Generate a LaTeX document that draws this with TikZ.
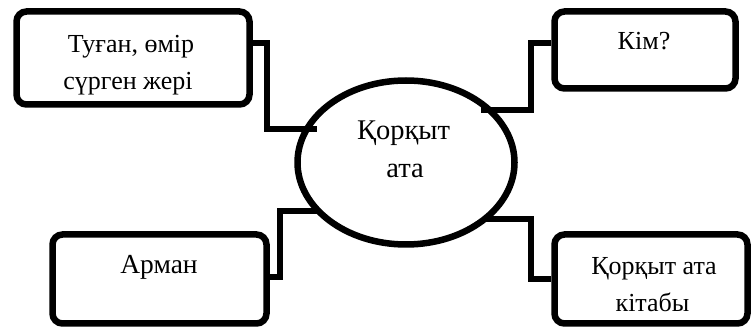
\documentclass[tikz,border=0pt]{standalone}
\usepackage{fontspec}
\setmainfont{Liberation Serif}
\usetikzlibrary{shapes.geometric}
\tikzset{
  box/.style={draw, line width=6.5pt, rounded corners=10pt, inner sep=0pt},
  oval/.style={draw, ellipse, line width=6.5pt, inner sep=0pt, minimum width=217pt, minimum height=164pt},
  conn/.style={draw, line width=6.5pt, line join=miter},
  txt/.style={anchor=base, inner sep=0pt, font=\fontsize{26}{37}\selectfont},
  bigtxt/.style={txt, font=\fontsize{28.5}{38}\selectfont}
}
\begin{document}
\begin{tikzpicture}[x=1pt,y=-1pt]
\useasboundingbox (0,0) rectangle (752,328);
% central ellipse
\node[oval] (e) at (406,162.5) {};
% boxes
\node[box, minimum width=233pt, minimum height=93pt] (b1) at (133,58) {};
\node[box, minimum width=181pt, minimum height=77pt] (b2) at (645,50) {};
\node[box, minimum width=214pt, minimum height=89pt] (b3) at (159.5,279) {};
\node[box, minimum width=193pt, minimum height=89pt] (b4) at (651,279) {};
% texts
\node[txt] (t1a) at (131,53) {Туған, өмір};
\node[txt] (t1b) at (128,90) {сүрген жері};
\node[txt] (t2) at (644,50) {Кім?};
\node[txt, font=\fontsize{27.5}{37}\selectfont] (t3) at (159,274) {Арман};
\node[txt] (t4a) at (654,275) {Қорқыт ата};
\node[txt] (t4b) at (652.5,312) {кітабы};
\node[bigtxt] (t0a) at (403.5,140) {Қорқыт};
\node[bigtxt] (t0b) at (405,178) {ата};
% connector free ends inside the ellipse
\coordinate (c1) at (317,129);
\coordinate (c2) at (481,110);
\coordinate (c3) at (317,211);
\coordinate (c4) at (486,219);
% connectors
\draw[conn] ([yshift=15pt]b1.east) -| (267,129) -- (c1);
\draw[conn] ([yshift=7pt]b2.west) -| (531,110) -- (c2);
\draw[conn] ([yshift=2pt]b3.east) -| (280,211) -- (c3);
\draw[conn] (c4) -| (531,279) -- (b4.west);
\end{tikzpicture}
\end{document}
